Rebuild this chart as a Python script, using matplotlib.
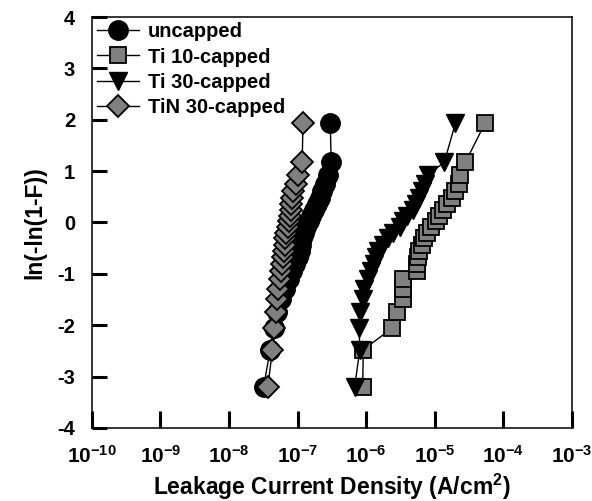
import matplotlib
matplotlib.use("Agg")
import matplotlib.pyplot as plt

# Weibull plot: ln(-ln(1-F)) vs leakage current density, 25 devices per split
weibull_y = [-3.20, -2.48, -2.06, -1.75, -1.50, -1.29, -1.11, -0.95, -0.81,
             -0.67, -0.55, -0.43, -0.31, -0.20, -0.09, 0.02, 0.13, 0.24,
             0.36, 0.48, 0.61, 0.75, 0.93, 1.17, 1.93]

uncapped = [3.2e-8, 4.0e-8, 4.6e-8, 5.1e-8, 5.8e-8, 6.6e-8, 7.4e-8, 8.3e-8,
            9.1e-8, 1.0e-7, 1.07e-7, 1.12e-7, 1.17e-7, 1.26e-7, 1.35e-7,
            1.45e-7, 1.58e-7, 1.74e-7, 1.9e-7, 2.1e-7, 2.3e-7, 2.5e-7,
            2.75e-7, 3.1e-7, 3.0e-7]
ti10 = [8.9e-7, 9.1e-7, 2.37e-6, 2.8e-6, 3.5e-6, 3.5e-6, 3.5e-6, 5.5e-6,
        5.6e-6, 5.8e-6, 6.0e-6, 6.5e-6, 6.9e-6, 7.8e-6, 8.9e-6, 1.05e-5,
        1.17e-5, 1.33e-5, 1.5e-5, 1.78e-5, 2.0e-5, 2.24e-5, 2.34e-5,
        2.8e-5, 5.4e-5]
ti30 = [6.8e-7, 8.1e-7, 7.9e-7, 8.1e-7, 8.9e-7, 9.3e-7, 1.05e-6, 1.17e-6,
        1.29e-6, 1.38e-6, 1.5e-6, 1.74e-6, 2.1e-6, 2.5e-6, 3.1e-6, 3.5e-6,
        4.0e-6, 4.8e-6, 5.4e-6, 6.0e-6, 6.6e-6, 7.2e-6, 7.9e-6, 1.38e-5,
        2.0e-5]
tin30 = [3.7e-8, 4.3e-8, 4.5e-8, 4.8e-8, 5.0e-8, 5.2e-8, 5.5e-8, 5.7e-8,
         5.9e-8, 6.1e-8, 6.3e-8, 6.5e-8, 6.6e-8, 6.9e-8, 7.2e-8, 7.4e-8,
         7.7e-8, 7.9e-8, 8.1e-8, 8.3e-8, 8.7e-8, 9.5e-8, 1.02e-7, 1.17e-7,
         1.2e-7]

labels = ["uncapped", "Ti 10-capped", "Ti 30-capped", "TiN 30-capped"]
decades = [-10, -9, -8, -7, -6, -5, -4, -3]
yticks = [-4, -3, -2, -1, 0, 1, 2, 3, 4]

plt.rcParams["font.family"] = ["Liberation Sans", "DejaVu Sans"]
plt.rcParams["font.weight"] = "bold"
plt.rcParams["mathtext.fontset"] = "custom"
plt.rcParams["mathtext.rm"] = "Liberation Sans:bold"
plt.rcParams["mathtext.bf"] = "Liberation Sans:bold"

fig = plt.figure(figsize=(5.92, 5.01), dpi=100)
ax = fig.add_axes([0.155, 0.146, 0.811, 0.820])

gray = "#808080"
styles = [
    (uncapped, dict(marker="o", ms=14, mfc="black", mec="black")),
    (ti10, dict(marker="s", ms=11, mfc=gray, mec="black", mew=1.3)),
    (ti30, dict(marker="v", ms=13.5, mfc="black", mec="black")),
    (tin30, dict(marker="D", ms=11.5, mfc=gray, mec="black", mew=1.3)),
]
for (xs, kw), lab in zip(styles, labels):
    ax.plot(xs, weibull_y, color="black", lw=1.0, label=lab, **kw)

ax.set_xscale("log")
ax.set_xlim(1e-10, 1e-3)
ax.set_ylim(-4, 4)
ax.set_xticks([10.0 ** d for d in decades])
ax.set_xticklabels([r"$\mathbf{10^{%d}}$" % d for d in decades])
ax.minorticks_off()
ax.set_yticks(yticks)
ax.set_yticklabels([str(v) for v in yticks])

ax.tick_params(axis="x", direction="in", length=12, width=2.2, pad=12,
               labelsize=15)
ax.tick_params(axis="y", direction="in", length=11, width=2.2, pad=12,
               labelsize=14.5)
for sp in ax.spines.values():
    sp.set_linewidth(1.1)

ax.set_xlabel(r"Leakage Current Density (A/cm$^{\mathbf{2}}$)",
              fontsize=16.5, fontweight="bold", labelpad=4)
ax.set_ylabel("ln(-ln(1-F))", fontsize=16.5, fontweight="bold", labelpad=8)

ax.legend(loc="upper left", bbox_to_anchor=(0.0, 1.0), frameon=False,
          handlelength=2.1, handletextpad=0.45,
          labelspacing=0.32, borderpad=0.05, borderaxespad=0.2,
          prop={"weight": "bold", "size": 14.5})

fig.savefig("out.png", dpi=100)
